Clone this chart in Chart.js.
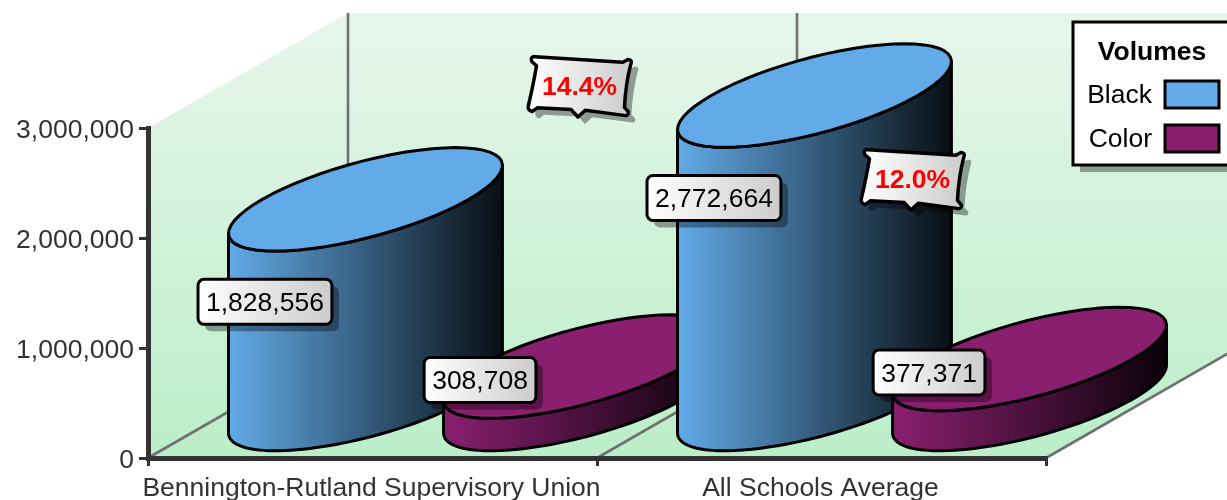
<!DOCTYPE html>
<html>
<head>
<meta charset="utf-8">
<style>
  html, body { margin: 0; padding: 0; background: #fff; overflow: hidden; }
  canvas { display: block; }
</style>
<script src="https://cdn.jsdelivr.net/npm/chart.js@4"></script>
</head>
<body>
<canvas id="chart" width="1227" height="500"></canvas>
<script>
const categories = ["Bennington-Rutland Supervisory Union", "All Schools Average"];
const blackVolumes = [1828556, 2772664];
const colorVolumes = [308708, 377371];
const shareLabels = ["14.4%", "12.0%"];
const seriesNames = ["Black", "Color"];
const seriesColors = ["#62abe8", "#8a1f70"];
const legendTitle = "Volumes";

const FONT = '"Liberation Sans", Arial, sans-serif';
const FONT_SIZE = 26.5;
const SHADOW = "rgba(0,0,0,0.36)";

// depth of the 3d box, and of the cylinders standing in it
const wallDx = 200, wallDy = 115;
const barDx = 180, barDy = 103.5;

// where the share callouts sit, relative to the category centre and the top of the plot
const shareOffsets = [{ x: 207, y: -42 }, { x: 91, y: 51 }];

function fmt(v) {
    return v.toLocaleString("en-US");
}

function drawWalls(chart) {
    const ctx = chart.ctx;
    const { left, right, top, bottom } = chart.chartArea;
    const grad = ctx.createLinearGradient(0, top - wallDy, 0, bottom);
    grad.addColorStop(0, "#e7f6ec");
    grad.addColorStop(1, "#bbeec8");
    ctx.save();
    ctx.fillStyle = grad;
    ctx.beginPath();
    ctx.moveTo(left, bottom);
    ctx.lineTo(left, top);
    ctx.lineTo(left + wallDx, top - wallDy);
    ctx.lineTo(right + wallDx, top - wallDy);
    ctx.lineTo(right + wallDx, bottom - wallDy);
    ctx.lineTo(right, bottom);
    ctx.closePath();
    ctx.fill();

    ctx.strokeStyle = "#707070";
    ctx.lineWidth = 2.6;
    const step = (right - left) / categories.length;
    for (let i = 0; i <= categories.length; i++) {
        const x = left + i * step;
        ctx.beginPath();
        ctx.moveTo(x, bottom);
        ctx.lineTo(x + wallDx, bottom - wallDy);
        ctx.lineTo(x + wallDx, top - wallDy);
        ctx.stroke();
    }
    ctx.restore();
}

function shade(hex, k) {
    const n = parseInt(hex.slice(1), 16);
    const r = Math.round((n >> 16 & 255) * k);
    const g = Math.round((n >> 8 & 255) * k);
    const b = Math.round((n & 255) * k);
    return `rgb(${r},${g},${b})`;
}

function ellipsePoint(cx, cy, w, t) {
    return [
        cx + w / 2 * Math.cos(t) + barDx / 2 * Math.sin(t),
        cy - barDy / 2 * Math.sin(t)
    ];
}

function traceArc(ctx, cx, cy, w, from, to, first) {
    for (let i = 0; i <= 60; i++) {
        const p = ellipsePoint(cx, cy, w, from + (to - from) * i / 60);
        if (i === 0 && first) ctx.moveTo(p[0], p[1]);
        else ctx.lineTo(p[0], p[1]);
    }
}

function drawCylinder(ctx, bar, color) {
    const w = bar.width;
    const cx = bar.x + wallDx / 2 + 0.5;
    const topY = bar.y - wallDy / 2;
    const baseY = bar.base - wallDy / 2;
    const t0 = Math.atan2(barDx, w);
    const halfW = Math.sqrt(w * w + barDx * barDx) / 2;

    const grad = ctx.createLinearGradient(cx - halfW, 0, cx + halfW, 0);
    grad.addColorStop(0, color);
    grad.addColorStop(1, shade(color, 0.08));

    ctx.lineWidth = 3;
    ctx.strokeStyle = "#000";
    ctx.lineJoin = "round";

    // side: down the left edge, round the front of the base, up the right edge
    ctx.beginPath();
    const start = ellipsePoint(cx, topY, w, t0 + Math.PI);
    ctx.moveTo(start[0], start[1]);
    traceArc(ctx, cx, baseY, w, t0 + Math.PI, t0 + 2 * Math.PI, false);
    traceArc(ctx, cx, topY, w, t0 + 2 * Math.PI, t0 + Math.PI, false);
    ctx.closePath();
    ctx.fillStyle = grad;
    ctx.fill();
    ctx.stroke();

    // lid
    ctx.beginPath();
    traceArc(ctx, cx, topY, w, 0, 2 * Math.PI, true);
    ctx.closePath();
    ctx.fillStyle = color;
    ctx.fill();
    ctx.stroke();
}

function roundBox(ctx, x, y, w, h, r) {
    ctx.beginPath();
    ctx.roundRect(x, y, w, h, r);
}

function drawValueLabel(ctx, bar, value) {
    const tall = bar.base - bar.y > 100;
    const cy = tall ? bar.y + 45 : bar.y - 44;
    ctx.font = `${FONT_SIZE}px ${FONT}`;
    const w = ctx.measureText(fmt(value)).width + 16;
    const h = 45;
    const x = bar.x - w / 2, y = cy - h / 2;

    ctx.fillStyle = SHADOW;
    roundBox(ctx, x + 7, y + 7, w, h, 6);
    ctx.fill();

    const grad = ctx.createLinearGradient(x, 0, x + w, 0);
    grad.addColorStop(0, "#ffffff");
    grad.addColorStop(1, "#cccccc");
    ctx.fillStyle = grad;
    ctx.strokeStyle = "#000";
    ctx.lineWidth = 3;
    roundBox(ctx, x, y, w, h, 6);
    ctx.fill();
    ctx.stroke();

    ctx.fillStyle = "#000";
    ctx.textAlign = "center";
    ctx.textBaseline = "middle";
    ctx.fillText(fmt(value), bar.x, cy + 2);
}

function tracePillow(ctx) {
    ctx.beginPath();
    ctx.moveTo(-46, -27);
    ctx.lineTo(42, -26);
    ctx.lineTo(47, -29);
    ctx.quadraticCurveTo(52, -29, 50, -24);
    ctx.quadraticCurveTo(46, -5, 46, 19);
    ctx.lineTo(50, 23);
    ctx.quadraticCurveTo(51, 28, 46, 27);
    ctx.lineTo(7, 24);
    ctx.lineTo(0, 31);
    ctx.lineTo(-7, 24);
    ctx.lineTo(-41, 24);
    ctx.lineTo(-46, 28);
    ctx.quadraticCurveTo(-51, 27, -50, 22);
    ctx.quadraticCurveTo(-46, 0, -44, -18);
    ctx.lineTo(-49, -22);
    ctx.quadraticCurveTo(-51, -27, -46, -27);
    ctx.closePath();
}

function drawShareLabel(ctx, cx, cy, text) {
    ctx.save();
    ctx.translate(cx, cy);

    ctx.save();
    ctx.translate(7, 7);
    ctx.rotate(3 * Math.PI / 180);
    ctx.fillStyle = SHADOW;
    tracePillow(ctx);
    ctx.fill();
    ctx.restore();

    ctx.rotate(3 * Math.PI / 180);
    const grad = ctx.createLinearGradient(-50, 0, 50, 0);
    grad.addColorStop(0, "#ffffff");
    grad.addColorStop(1, "#cccccc");
    ctx.fillStyle = grad;
    ctx.strokeStyle = "#000";
    ctx.lineWidth = 3.5;
    ctx.lineJoin = "round";
    tracePillow(ctx);
    ctx.fill();
    ctx.stroke();
    ctx.restore();

    ctx.font = `bold ${FONT_SIZE}px ${FONT}`;
    ctx.fillStyle = "#ff0000";
    ctx.textAlign = "center";
    ctx.textBaseline = "middle";
    ctx.fillText(text, cx, cy + 2);
}

function drawLegend(chart) {
    const ctx = chart.ctx;
    const x = 1073, y = 22, w = 170, h = 143;
    ctx.save();
    ctx.fillStyle = SHADOW;
    ctx.fillRect(x + 7, y + 7, w, h);
    ctx.fillStyle = "#fff";
    ctx.strokeStyle = "#000";
    ctx.lineWidth = 3;
    ctx.fillRect(x, y, w, h);
    ctx.strokeRect(x, y, w, h);

    ctx.fillStyle = "#000";
    ctx.textBaseline = "middle";
    ctx.textAlign = "center";
    ctx.font = `bold ${FONT_SIZE}px ${FONT}`;
    ctx.fillText(legendTitle, 1152, 53);

    ctx.font = `${FONT_SIZE}px ${FONT}`;
    ctx.textAlign = "right";
    chart.data.datasets.forEach((ds, i) => {
        const rowY = 94 + i * 44;
        ctx.fillStyle = "#000";
        ctx.fillText(ds.label, 1152, rowY + 2);
        ctx.fillStyle = ds.backgroundColor;
        ctx.fillRect(1165, rowY - 13, 54, 27);
        ctx.strokeRect(1165, rowY - 13, 54, 27);
    });
    ctx.restore();
}

const cylinders = {
    id: "cylinders",
    beforeDraw(chart) {
        drawWalls(chart);
    },
    beforeDatasetsDraw(chart) {
        const ctx = chart.ctx;
        ctx.save();
        categories.forEach((_, i) => {
            chart.data.datasets.forEach((ds, d) => {
                drawCylinder(ctx, chart.getDatasetMeta(d).data[i], ds.backgroundColor);
            });
        });
        categories.forEach((_, i) => {
            chart.data.datasets.forEach((ds, d) => {
                drawValueLabel(ctx, chart.getDatasetMeta(d).data[i], ds.data[i]);
            });
        });
        const top = chart.chartArea.top;
        shareLabels.forEach((text, i) => {
            const cx = chart.scales.x.getPixelForValue(i) + shareOffsets[i].x;
            drawShareLabel(ctx, cx, top + shareOffsets[i].y, text);
        });
        ctx.restore();
        drawLegend(chart);
        return false; // the flat bars are not drawn
    }
};

new Chart(document.getElementById("chart"), {
    type: "bar",
    data: {
        labels: categories,
        datasets: [
            { label: seriesNames[0], data: blackVolumes, backgroundColor: seriesColors[0] },
            { label: seriesNames[1], data: colorVolumes, backgroundColor: seriesColors[1] }
        ]
    },
    plugins: [cylinders],
    options: {
        responsive: false,
        animation: false,
        datasets: { bar: { categoryPercentage: 0.958, barPercentage: 0.96 } },
        layout: { padding: { top: 128, right: 181, left: 0, bottom: 0 } },
        plugins: { legend: { display: false }, tooltip: { enabled: false } },
        scales: {
            x: {
                afterFit: s => { s.height = 42; },
                border: { color: "#333", width: 5 },
                grid: { drawOnChartArea: false, color: "#333", tickLength: 8, lineWidth: 3 },
                ticks: { color: "#333", padding: 7, maxRotation: 0, autoSkip: false, labelOffset: -1, font: { family: FONT, size: FONT_SIZE } }
            },
            y: {
                min: 0,
                max: 3000000,
                afterFit: s => { s.width = 148; },
                border: { color: "#333", width: 5 },
                grid: { drawOnChartArea: false, color: "#333", tickLength: 9, lineWidth: 3 },
                ticks: { stepSize: 1000000, color: "#333", padding: 5, labelOffset: 3, font: { family: FONT, size: FONT_SIZE }, callback: v => fmt(v) }
            }
        }
    }
});
</script>
</body>
</html>
